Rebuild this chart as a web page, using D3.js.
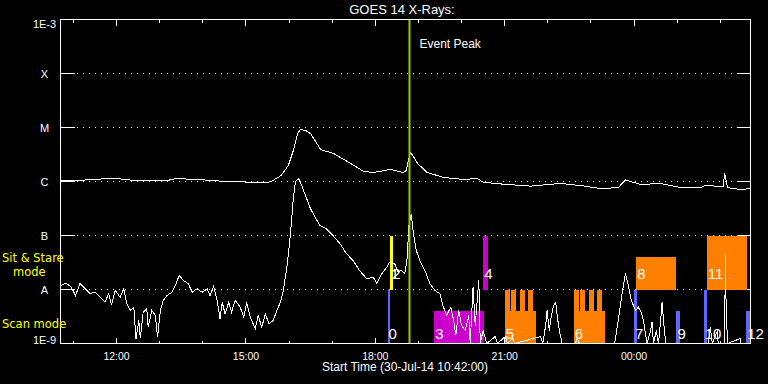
<!DOCTYPE html>
<html>
<head>
<meta charset="utf-8">
<script src="https://cdn.jsdelivr.net/npm/d3@7"></script>
<style>
  html, body { margin: 0; padding: 0; background: #000; }
  svg { display: block; }
  text { font-family: "Liberation Sans", Arial, sans-serif; fill: #fff; }
</style>
</head>
<body>
<div class="goes-chart"></div>
<script>
// DATA
const startTime = "10:42";   // 30-Jul-14
const endTime = "02:42";     // 31-Jul-14
const eventPeak = "18:48";

const fluxLevels = [1e-9, 1e-8, 1e-7, 1e-6, 1e-5, 1e-4, 1e-3];
const fluxLabels = ["1E-9", "A", "B", "C", "M", "X", "1E-3"];

// 1-8 Angstrom channel (W/m^2)
const longChannel = [
  ["10:42", 1.04e-6], ["11:10", 1.05e-6], ["11:30", 1.10e-6], ["11:58", 1.14e-6], ["12:10", 1.10e-6],
  ["12:26", 1.04e-6], ["13:10", 1.04e-6], ["13:26", 1.16e-6], ["13:40", 1.10e-6], ["13:57", 1.09e-6],
  ["14:10", 1.04e-6], ["14:38", 1.0e-6], ["15:18", 0.96e-6], ["15:34", 0.98e-6], ["15:49", 1.29e-6],
  ["15:59", 1.98e-6], ["16:06", 3.75e-6], ["16:12", 7.74e-6], ["16:16", 9.2e-6], ["16:23", 8.8e-6],
  ["16:30", 7.7e-6], ["16:44", 3.9e-6], ["17:02", 3.3e-6], ["17:26", 2.15e-6], ["17:44", 1.53e-6],
  ["17:58", 1.47e-6], ["18:21", 1.67e-6], ["18:39", 1.47e-6], ["18:43", 1.6e-6], ["18:46", 2.45e-6],
  ["18:49", 3.44e-6], ["18:53", 2.9e-6], ["18:59", 2.15e-6], ["19:12", 1.47e-6], ["19:35", 1.19e-6],
  ["20:03", 1.09e-6], ["20:22", 1.14e-6], ["20:30", 0.97e-6], ["20:50", 0.91e-6], ["21:36", 0.82e-6],
  ["22:18", 0.92e-6], ["22:46", 0.84e-6], ["23:13", 0.74e-6], ["23:38", 0.77e-6], ["23:48", 1.07e-6],
  ["00:09", 0.88e-6], ["00:37", 0.92e-6], ["01:05", 0.77e-6], ["01:32", 0.76e-6], ["01:39", 0.84e-6],
  ["02:04", 0.81e-6], ["02:06", 1.41e-6], ["02:10", 0.77e-6], ["02:28", 0.71e-6], ["02:42", 0.74e-6]
];

// 0.5-4 Angstrom channel (W/m^2)
const shortChannel = [
  ["10:43", 1.19e-8], ["10:50", 1.31e-8], ["10:57", 1.10e-8], ["11:03", 7.7e-9], ["11:09", 1.31e-8],
  ["11:16", 1.04e-8], ["11:23", 8.4e-9], ["11:30", 8.9e-9], ["11:37", 7.2e-9], ["11:44", 5.8e-9],
  ["11:49", 8.4e-9], ["11:53", 5.1e-9], ["11:58", 9.6e-9], ["12:05", 7.2e-9], ["12:10", 1.03e-8],
  ["12:14", 5.5e-9], ["12:19", 4.1e-9], ["12:24", 4.7e-9], ["12:27", 1.22e-9], ["12:31", 2.67e-9],
  ["12:33", 1.24e-9], ["12:37", 3.8e-9], ["12:42", 4.4e-9], ["12:44", 2.0e-9], ["12:49", 4.1e-9],
  ["12:54", 3.3e-9], ["12:57", 1.31e-9], ["13:01", 4.1e-9], ["13:05", 6.3e-9], ["13:10", 7.7e-9],
  ["13:17", 8.9e-9], ["13:22", 1.19e-8], ["13:27", 1.82e-8], ["13:33", 1.47e-8], ["13:40", 1.28e-8],
  ["13:45", 8.9e-9], ["13:52", 1.03e-8], ["13:59", 8.9e-9], ["14:06", 1.03e-8], ["14:10", 7.7e-9],
  ["14:15", 1.14e-8], ["14:20", 6.3e-9], ["14:24", 2.87e-9], ["14:27", 5.8e-9], ["14:31", 3.55e-9],
  ["14:36", 5.8e-9], ["14:40", 3.8e-9], ["14:45", 6.3e-9], ["14:52", 4.7e-9], ["14:57", 3.07e-9],
  ["15:01", 5.8e-9], ["15:06", 3.07e-9], ["15:13", 1.87e-9], ["15:17", 3.3e-9], ["15:22", 2.0e-9],
  ["15:27", 3.55e-9], ["15:32", 2.32e-9], ["15:38", 2.67e-9], ["15:43", 4.1e-9], ["15:48", 5.8e-9],
  ["15:52", 9.6e-9], ["15:57", 2.59e-8], ["16:02", 1.07e-7], ["16:06", 5.1e-7], ["16:09", 1.0e-6],
  ["16:13", 1.12e-6], ["16:15", 1.04e-6], ["16:22", 5.9e-7], ["16:29", 3.34e-7], ["16:36", 2.18e-7],
  ["16:43", 1.53e-7], ["16:52", 1.33e-7], ["17:01", 1.0e-7], ["17:11", 7.0e-8], ["17:20", 4.6e-8],
  ["17:29", 3.44e-8], ["17:38", 2.25e-8], ["17:48", 1.58e-8], ["17:57", 1.69e-8], ["18:02", 1.31e-8],
  ["18:09", 1.95e-8], ["18:16", 2.59e-8], ["18:20", 3.2e-8], ["18:27", 2.99e-8], ["18:32", 2.09e-8],
  ["18:36", 2.25e-8], ["18:41", 1.95e-8], ["18:44", 3.44e-8], ["18:47", 1.65e-7], ["18:50", 2.45e-7],
  ["18:53", 1.07e-7], ["18:57", 5.3e-8], ["19:02", 3.44e-8], ["19:09", 2.25e-8], ["19:16", 1.28e-8],
  ["19:23", 9.6e-9], ["19:30", 8.3e-9], ["19:34", 5.1e-9], ["19:39", 3.3e-9], ["19:45", 4.7e-9],
  ["19:49", 2.67e-9], ["19:52", 1.41e-9], ["19:56", 4.1e-9], ["20:00", 2.15e-9], ["20:05", 1.74e-9],
  ["20:10", 3.3e-9], ["20:12", 1e-9], ["20:16", 1.1e-8], ["20:19", 2.15e-9], ["20:24", 1.47e-8],
  ["20:26", 1e-9], ["20:30", 1.74e-9], ["20:35", 1e-9], ["20:47", 1.35e-9], ["20:50", 1e-9],
  ["21:01", 1.35e-9], ["21:04", 1e-9], ["21:11", 1.24e-9], ["21:14", 1e-9], ["21:50", 1.35e-9],
  ["21:53", 1e-9], ["21:57", 2.15e-9], ["21:59", 4.1e-9], ["22:02", 1.74e-9], ["22:05", 3.3e-9],
  ["22:08", 5.1e-9], ["22:11", 5.7e-9], ["22:13", 3.3e-9], ["22:16", 1.74e-9], ["22:20", 1e-9],
  ["22:38", 1e-9], ["22:41", 1.24e-9], ["22:44", 1e-9], ["23:33", 1e-9], ["23:38", 2.67e-9],
  ["23:44", 9.6e-9], ["23:48", 2.0e-8], ["23:52", 1.19e-8], ["23:56", 6.3e-9], ["00:02", 4.1e-9],
  ["00:06", 4.7e-9], ["00:10", 3.75e-9], ["00:13", 2.67e-9], ["00:18", 1e-9], ["00:23", 1.74e-9],
  ["00:25", 2.48e-9], ["00:27", 1e-9], ["00:31", 1.74e-9], ["00:34", 1e-9], ["00:37", 2.67e-9],
  ["00:39", 5.8e-9], ["00:41", 2.67e-9], ["00:44", 1e-9], ["01:43", 1e-9], ["01:46", 2.0e-9],
  ["01:49", 1e-9], ["01:56", 1.74e-9], ["01:57", 1e-9], ["02:06", 1e-9], ["02:07", 4.45e-8],
  ["02:08", 5.6e-9], ["02:10", 1e-9], ["02:28", 1.24e-9], ["02:29", 1e-9], ["02:42", 1e-9]
];

// observations: label, start, end, mode, extent, program
const observations = [
  ["0", "18:17", "18:21", "scan", "full", "P1"],
  ["1", "18:20", "18:24", "sns", "full", "P2"],
  ["2", "18:22", "18:25", "sns", "part", "P2"],
  ["3", "19:22", "20:31", "scan", "part", "P3"],
  ["4", "20:30", "20:37", "sns", "full", "P3"],
  ["5", "21:00", "21:43", "scan", "part", "P4"],
  ["", "21:00", "21:07", "scan", "full", "P4"],
  ["", "21:09", "21:16", "scan", "full", "P4"],
  ["", "21:21", "21:28", "scan", "full", "P4"],
  ["", "21:32", "21:39", "scan", "full", "P4"],
  ["6", "22:36", "23:19", "scan", "part", "P4"],
  ["", "22:36", "22:43", "scan", "full", "P4"],
  ["", "22:45", "22:52", "scan", "full", "P4"],
  ["", "22:57", "23:04", "scan", "full", "P4"],
  ["", "23:08", "23:15", "scan", "full", "P4"],
  ["7", "00:00", "00:04", "scan", "full", "P1"],
  ["8", "00:03", "00:58", "sns", "part", "P4"],
  ["9", "00:59", "01:04", "scan", "part", "P1"],
  ["10", "01:37", "01:42", "scan", "full", "P1"],
  ["11", "01:41", "02:37", "sns", "full", "P4"],
  ["12", "02:36", "02:41", "scan", "part", "P1"]
];

// SETUP
const width = 768, height = 384;
const margin = { top: 19, right: 18, bottom: 41, left: 60 };
const plotW = width - margin.left - margin.right;
const plotH = height - margin.top - margin.bottom;

const parseClock = s => {
  const [h, m] = s.split(":").map(Number);
  const d = new Date(2014, 6, 30, h, m);
  if (h * 60 + m < 10 * 60 + 42) d.setDate(31);
  return d;
};

const x = d3.scaleTime()
  .domain([parseClock(startTime), parseClock(endTime)])
  .range([0, plotW]);
const y = d3.scaleLog()
  .domain([1e-9, 1e-3])
  .range([plotH, 0]);

const programColor = d3.scaleOrdinal()
  .domain(["P1", "P2", "P3", "P4"])
  .range(["#6464ff", "#ffff00", "#cc00cc", "#ff8000"]);

const modeBase = { scan: 1e-9, sns: 1e-8 };
const extentDecades = { full: 1, part: 0.61 };

const svg = d3.select(".goes-chart")
  .append("svg")
  .attr("width", width)
  .attr("height", height)
  .style("background", "#000");

const g = svg.append("g")
  .attr("transform", `translate(${margin.left + 0.5},${margin.top + 0.5})`);

g.append("clipPath").attr("id", "plot-clip")
  .append("rect").attr("x", 0).attr("y", -1).attr("width", plotW).attr("height", plotH + 1);

// gridlines
const inner = fluxLevels.slice(1, -1);
g.selectAll(".grid")
  .data(inner)
  .enter().append("line")
  .attr("x1", 16).attr("x2", plotW - 14)
  .attr("y1", d => Math.round(y(d))).attr("y2", d => Math.round(y(d)))
  .attr("stroke", "#fff")
  .attr("stroke-dasharray", "1,5")
  .attr("shape-rendering", "crispEdges");

// y ticks, both sides
[[0, 14], [plotW - 14, plotW]].forEach(([a, b]) => {
  g.selectAll(null)
    .data(inner)
    .enter().append("line")
    .attr("x1", a).attr("x2", b)
    .attr("y1", d => Math.round(y(d))).attr("y2", d => Math.round(y(d)))
    .attr("stroke", "#fff")
    .attr("shape-rendering", "crispEdges");
});

// y labels
g.selectAll(".ylab")
  .data(fluxLevels)
  .enter().append("text")
  .attr("x", 44 - margin.left)
  .attr("y", (d, i) => i === 0 ? y(d) : i === fluxLevels.length - 1 ? y(d) + 8 : y(d) + 4.5)
  .attr("text-anchor", "middle")
  .style("font-size", "11px")
  .text((d, i) => fluxLabels[i]);

// x ticks
const hours = x.ticks(d3.timeHour.every(1));
const isMajor = d => d.getHours() % 3 === 0;
g.selectAll(".xtick-top")
  .data(hours)
  .enter().append("line")
  .attr("x1", d => Math.round(x(d))).attr("x2", d => Math.round(x(d)))
  .attr("y1", 0).attr("y2", d => isMajor(d) ? 6 : 3)
  .attr("stroke", "#fff").attr("shape-rendering", "crispEdges");
g.selectAll(".xtick-bottom")
  .data(hours)
  .enter().append("line")
  .attr("x1", d => Math.round(x(d))).attr("x2", d => Math.round(x(d)))
  .attr("y1", plotH).attr("y2", d => plotH - (isMajor(d) ? 6 : 3))
  .attr("stroke", "#fff").attr("shape-rendering", "crispEdges");
g.selectAll(".xlab")
  .data(hours.filter(isMajor))
  .enter().append("text")
  .attr("x", d => x(d))
  .attr("y", plotH + 16)
  .attr("text-anchor", "middle")
  .style("font-size", "10.5px")
  .text(d3.timeFormat("%H:%M"));

// observation bars
const bars = g.append("g").attr("clip-path", "url(#plot-clip)");
bars.selectAll("rect")
  .data(observations)
  .enter().append("rect")
  .attr("x", d => x(parseClock(d[1])))
  .attr("width", d => x(parseClock(d[2])) - x(parseClock(d[1])))
  .attr("y", d => y(modeBase[d[3]] * Math.pow(10, extentDecades[d[4]])))
  .attr("height", d => y(modeBase[d[3]]) - y(modeBase[d[3]] * Math.pow(10, extentDecades[d[4]])))
  .attr("fill", d => programColor(d[5]))
  .attr("shape-rendering", "crispEdges");

// flux curves
const line = d3.line()
  .x(d => x(parseClock(d[0])))
  .y(d => y(d[1]));
const curves = g.append("g").attr("clip-path", "url(#plot-clip)");
[longChannel, shortChannel].forEach(series => {
  curves.append("path")
    .datum(series)
    .attr("d", line)
    .attr("fill", "none")
    .attr("stroke", "#fff")
    .attr("stroke-width", 1)
    .attr("shape-rendering", "crispEdges");
});

// event peak
const px = Math.round(x(parseClock(eventPeak)));
g.append("line")
  .attr("x1", px).attr("x2", px)
  .attr("y1", 0).attr("y2", plotH)
  .attr("stroke", "#99cc00")
  .attr("stroke-width", 2);
g.append("text")
  .attr("x", px + 10)
  .attr("y", 28)
  .style("font-size", "12px")
  .text("Event Peak");

// observation labels
g.selectAll(".obs-label")
  .data(observations.filter(d => d[0] !== ""))
  .enter().append("text")
  .attr("x", d => x(parseClock(d[1])) + 1)
  .attr("y", d => y(modeBase[d[3]]) - (d[3] === "scan" ? 5 : 11))
  .style("font-size", "15px")
  .text(d => d[0]);

// frame
g.append("rect")
  .attr("width", plotW).attr("height", plotH)
  .attr("fill", "none").attr("stroke", "#fff");

// mode labels
const modeText = [["Sit & Stare", 2, 262], ["mode", 13, 276], ["Scan mode", 2, 328]];
svg.selectAll(".mode-label")
  .data(modeText)
  .enter().append("text")
  .attr("x", d => d[1]).attr("y", d => d[2])
  .style("fill", "#ffff00")
  .style("font-family", "'DejaVu Sans', sans-serif")
  .style("font-size", "11.5px")
  .text(d => d[0]);

// titles
svg.append("text")
  .attr("x", 402).attr("y", 14)
  .attr("text-anchor", "middle")
  .style("font-size", "13px")
  .text("GOES 14 X-Rays:");
svg.append("text")
  .attr("x", 405).attr("y", 371)
  .attr("text-anchor", "middle")
  .style("font-size", "12px")
  .text("Start Time (30-Jul-14 10:42:00)");
</script>
</body>
</html>
